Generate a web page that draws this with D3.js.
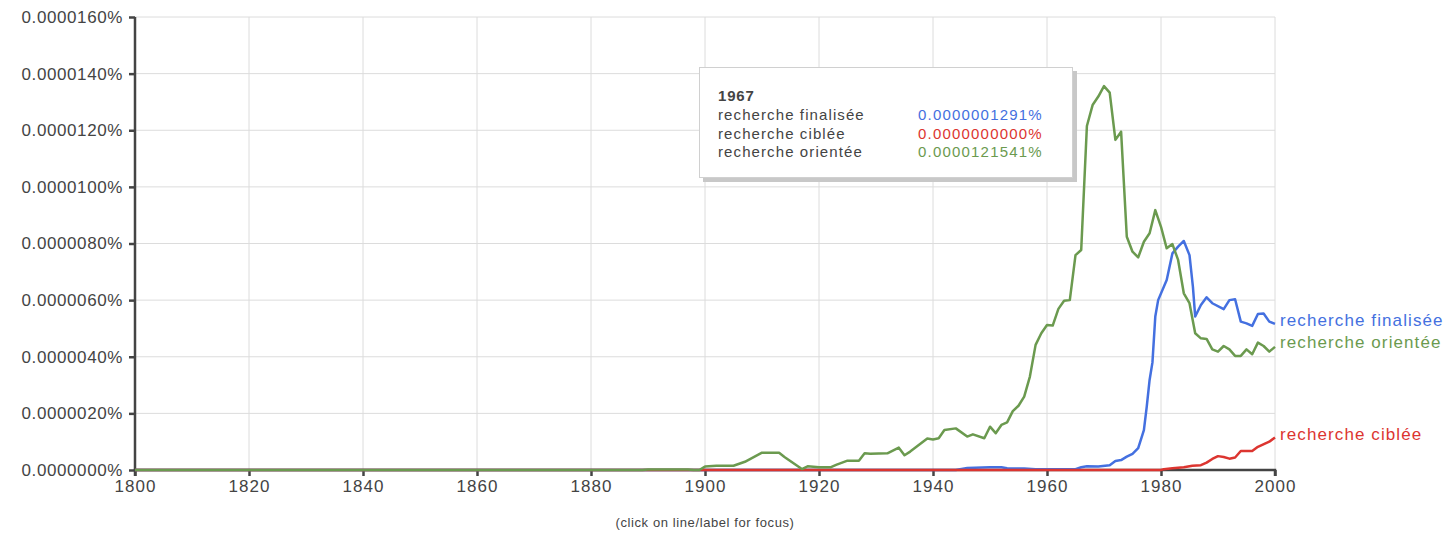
<!DOCTYPE html>
<html lang="fr">
<head>
<meta charset="utf-8">
<title>Ngram</title>
<script src="https://d3js.org/d3.v7.min.js"></script>
<style>
  body { margin: 0; background: #fff; }
  svg text { font-family: "Liberation Sans", Arial, sans-serif; }
</style>
</head>
<body>
<script>
// values in units of 0.0000001 %
const seriesNames = ["recherche finalisée", "recherche ciblée", "recherche orientée"];
const seriesColors = ["#4470e0", "#dc3530", "#6b9a4f"];

const finalisee = [
  [1800, 0], [1944, 0], [1945, 0.4], [1946, 0.7], [1950, 0.95], [1952, 0.95], [1953, 0.6],
  [1956, 0.5], [1958, 0.3], [1965, 0.3], [1966, 0.95], [1967, 1.29], [1969, 1.2], [1971, 1.7],
  [1972, 3.2], [1973, 3.5], [1974, 4.7], [1975, 5.7], [1976, 7.7], [1977, 14.1], [1977.5, 22.4],
  [1978, 31.8], [1978.5, 38], [1979, 54.2], [1979.5, 60], [1981, 67.1], [1982, 76.5], [1983, 78.9],
  [1984, 80.9], [1985, 75.9], [1985.6, 64.7], [1986, 54.2], [1987, 58.3], [1988, 61], [1989, 58.9],
  [1991, 56.8], [1992, 60], [1993, 60.3], [1994, 52.4], [1995, 51.8], [1996, 50.9], [1997, 55.1],
  [1998, 55.3], [1999, 52.4], [2000, 51.6]
];
const ciblee = [
  [1800, 0], [1980, 0], [1980.5, 0.3], [1982, 0.6], [1984, 1], [1985.5, 1.5], [1987, 1.7],
  [1988, 2.6], [1989, 3.9], [1990, 4.9], [1991, 4.6], [1992, 4], [1993, 4.4], [1994, 6.7],
  [1996, 6.7], [1997, 8.2], [1999, 10], [2000, 11.5]
];
const orientee = [
  [1800, 0], [1889, 0], [1890, 0.2], [1897, 0.2], [1898, 0], [1899, 0], [1900, 1.2], [1902, 1.5],
  [1905, 1.5], [1907, 2.9], [1910, 6.1], [1913, 6.1], [1914, 4.5], [1917, 0.35], [1918, 1.3],
  [1920, 0.95], [1922, 0.95], [1923, 1.8], [1925, 3.3], [1927, 3.3], [1928, 5.9], [1929, 5.7],
  [1932, 5.9], [1934, 7.9], [1935, 5.2], [1936, 6.5], [1939, 11.1], [1940, 10.8], [1941, 11.2],
  [1942, 14.1], [1944, 14.7], [1946, 11.8], [1947, 12.6], [1949, 11.2], [1950, 15.3], [1951, 13],
  [1952, 15.9], [1953, 16.8], [1954, 20.8], [1955, 22.7], [1956, 25.9], [1957, 33], [1958, 44.2],
  [1959, 48.3], [1960, 51.2], [1961, 51], [1962, 56.9], [1963, 59.8], [1964, 60], [1965, 75.9],
  [1966, 77.7], [1967, 121.5], [1968, 128.9], [1969, 131.9], [1970, 135.6], [1971, 133.3],
  [1972, 116.6], [1973, 119.5], [1974, 82.4], [1975, 77.1], [1976, 75.1], [1977, 80.6],
  [1978, 83.6], [1979, 91.8], [1980, 85.9], [1981, 78.3], [1982, 79.8], [1983, 74.2], [1984, 62.4],
  [1985, 58.9], [1986, 48.3], [1987, 46.5], [1988, 46.3], [1989, 42.6], [1990, 41.8], [1991, 43.8],
  [1992, 42.6], [1993, 40.3], [1994, 40.3], [1995, 42.6], [1996, 40.9], [1997, 45], [1998, 43.8],
  [1999, 41.8], [2000, 43.5]
];
const yTicks = [0, 20, 40, 60, 80, 100, 120, 140, 160];
const xTicks = [1800, 1820, 1840, 1860, 1880, 1900, 1920, 1940, 1960, 1980, 2000];
const hoverYear = 1967;
const hoverValues = ["0.0000001291%", "0.0000000000%", "0.0000121541%"];

const W = 1452, H = 534;
const x = d3.scaleLinear().domain([1800, 2000]).range([135, 1275]);
const y = d3.scaleLinear().domain([0, 160]).range([470, 17]);
const fmt = v => (v / 1e7).toFixed(7) + "%";

const svg = d3.select("body").append("svg").attr("width", W).attr("height", H);

// grid
svg.append("g").selectAll("line").data(yTicks.slice(1)).join("line")
  .attr("x1", x(1800)).attr("x2", x(2000))
  .attr("y1", d => y(d)).attr("y2", d => y(d))
  .attr("stroke", "#dcdcdc").attr("stroke-width", 1);
svg.append("g").selectAll("line").data(xTicks.slice(1)).join("line")
  .attr("x1", d => x(d)).attr("x2", d => x(d))
  .attr("y1", y(160)).attr("y2", y(0))
  .attr("stroke", "#dcdcdc").attr("stroke-width", 1);

// axes
const yAxis = svg.append("g").attr("transform", `translate(${x(1800)},0)`)
  .call(d3.axisLeft(y).tickValues(yTicks).tickFormat(fmt).tickSize(6).tickPadding(6));
const xAxis = svg.append("g").attr("transform", `translate(0,${y(0)})`)
  .call(d3.axisBottom(x).tickValues(xTicks).tickFormat(d3.format("d")).tickSize(6).tickPadding(4));
[yAxis, xAxis].forEach(a => {
  a.select(".domain").attr("stroke", "#444").attr("stroke-width", 2.5);
  a.selectAll(".tick line").attr("stroke", "#444").attr("stroke-width", 2.5);
  a.selectAll("text").attr("fill", "#444").attr("font-size", 17).attr("letter-spacing", 0.6)
    .attr("font-family", "'Liberation Sans', Arial, sans-serif");
});
xAxis.selectAll("text").attr("letter-spacing", 1);
xAxis.select(".domain").attr("d", `M${x(1800)},6V0H${x(2000)}V6`);
yAxis.select(".domain").attr("d", `M0,${y(160)}H0V${y(0)}`);

// lines
const line = d3.line().x(d => x(d[0])).y(d => y(d[1]));
const data = [finalisee, ciblee, orientee];
[0, 1, 2].forEach(i => {
  svg.append("path").datum(data[i]).attr("d", line)
    .attr("fill", "none").attr("stroke", seriesColors[i])
    .attr("stroke-width", 2.5).attr("stroke-linejoin", "round");
});

// end labels
const labelOffset = [-4, -3, -5];
[0, 1, 2].forEach(i => {
  const last = data[i][data[i].length - 1];
  svg.append("text").attr("x", x(2000) + 5).attr("y", y(last[1]) + labelOffset[i])
    .attr("dy", "0.35em").attr("font-size", 17).attr("letter-spacing", 1.1)
    .attr("fill", seriesColors[i]).text(seriesNames[i]);
});

// tooltip
const tip = svg.append("g").attr("transform", "translate(699,67)");
tip.append("rect").attr("x", 4).attr("y", 4).attr("width", 374).attr("height", 111).attr("fill", "#c8c8c8");
tip.append("rect").attr("x", 0.5).attr("y", 0.5).attr("width", 373).attr("height", 110)
  .attr("fill", "#fff").attr("stroke", "#d0d0d0");
tip.append("text").attr("x", 19).attr("y", 34).attr("font-size", 15).attr("font-weight", "bold")
  .attr("letter-spacing", 0.8).attr("fill", "#444").text(hoverYear);
[0, 1, 2].forEach(i => {
  tip.append("text").attr("x", 19).attr("y", 53 + i * 18.5).attr("font-size", 15)
    .attr("letter-spacing", 1.1).attr("fill", "#444").text(seriesNames[i]);
  tip.append("text").attr("x", 219).attr("y", 53 + i * 18.5).attr("font-size", 15)
    .attr("letter-spacing", 1.2).attr("fill", seriesColors[i]).text(hoverValues[i]);
});

svg.append("text").attr("x", 705).attr("y", 527).attr("text-anchor", "middle")
  .attr("font-size", 13).attr("letter-spacing", 0.6)
  .attr("fill", "#444").text("(click on line/label for focus)");
</script>
</body>
</html>
